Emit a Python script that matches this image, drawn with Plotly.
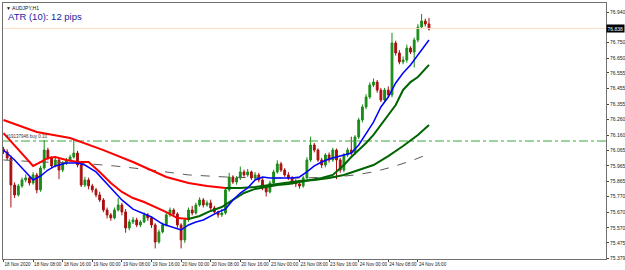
import plotly.graph_objects as go

# ---------------- data ----------------
bars = list(range(116))  # H1 bars, 18 Nov 2020 00:00 ... 24 Nov 2020 19:00

opens = [76.070, 76.053, 76.015, 75.843, 75.780, 75.837, 75.875, 75.888, 75.856, 75.907,
         75.812, 75.951, 76.065, 76.015, 75.964, 76.002, 75.938, 75.983, 76.002, 76.021,
         76.046, 75.970, 75.843, 75.875, 75.837, 75.812, 75.780, 75.748, 75.684, 75.653,
         75.634, 75.684, 75.716, 75.672, 75.570, 75.608, 75.621, 75.589, 75.608, 75.653,
         75.634, 75.589, 75.481, 75.545, 75.589, 75.653, 75.684, 75.659, 75.589, 75.494,
         75.621, 75.684, 75.665, 75.716, 75.748, 75.716, 75.729, 75.697, 75.672, 75.653,
         75.665, 75.812, 75.894, 75.862, 75.888, 75.926, 75.907, 75.926, 75.888, 75.907,
         75.875, 75.824, 75.799, 75.856, 75.926, 75.977, 75.938, 75.907, 75.888, 75.862,
         75.850, 75.837, 75.888, 76.002, 76.097, 76.065, 76.002, 75.970, 76.034, 76.002,
         76.065, 76.002, 75.938, 76.034, 76.065, 76.046, 76.148, 76.256, 76.339, 76.402,
         76.478, 76.497, 76.446, 76.383, 76.446, 76.415, 76.745, 76.682, 76.625, 76.637,
         76.713, 76.688, 76.764, 76.847, 76.885, 76.866]
closes = [76.053, 76.015, 75.843, 75.780, 75.837, 75.875, 75.888, 75.856, 75.907, 75.812,
          75.951, 76.065, 76.015, 75.964, 76.002, 75.938, 75.983, 76.002, 76.021, 76.046,
          75.970, 75.843, 75.875, 75.837, 75.812, 75.780, 75.748, 75.684, 75.653, 75.634,
          75.684, 75.716, 75.672, 75.570, 75.608, 75.621, 75.589, 75.608, 75.653, 75.634,
          75.589, 75.481, 75.545, 75.589, 75.653, 75.684, 75.659, 75.589, 75.494, 75.621,
          75.684, 75.665, 75.716, 75.748, 75.716, 75.729, 75.697, 75.672, 75.653, 75.665,
          75.812, 75.894, 75.862, 75.888, 75.926, 75.907, 75.926, 75.888, 75.907, 75.875,
          75.824, 75.799, 75.856, 75.926, 75.977, 75.938, 75.907, 75.888, 75.862, 75.850,
          75.837, 75.888, 76.002, 76.097, 76.065, 76.002, 75.970, 76.034, 76.002, 76.065,
          76.002, 75.938, 76.034, 76.065, 76.046, 76.148, 76.256, 76.339, 76.402, 76.478,
          76.497, 76.446, 76.383, 76.446, 76.415, 76.745, 76.682, 76.625, 76.637, 76.713,
          76.688, 76.764, 76.847, 76.885, 76.866, 76.834]
highs = [76.085, 76.070, 76.030, 75.860, 75.850, 75.890, 75.910, 75.900, 75.925, 75.920,
         75.965, 76.129, 76.080, 76.025, 76.020, 76.010, 75.995, 76.015, 76.035, 76.135,
         76.060, 75.985, 75.895, 75.890, 75.850, 75.825, 75.800, 75.760, 75.700, 75.665,
         75.700, 75.760, 75.730, 75.690, 75.625, 75.640, 75.635, 75.620, 75.670, 75.665,
         75.645, 75.600, 75.560, 75.605, 75.670, 75.700, 75.695, 75.670, 75.600, 75.635,
         75.700, 75.710, 75.730, 75.765, 75.760, 75.745, 75.750, 75.710, 75.680, 75.690,
         75.830, 75.920, 75.905, 75.900, 75.960, 75.940, 75.945, 75.935, 75.925, 75.920,
         75.885, 75.840, 75.870, 75.940, 76.000, 75.990, 75.950, 75.925, 75.900, 75.880,
         75.865, 75.900, 76.020, 76.150, 76.110, 76.075, 76.015, 76.045, 76.050, 76.080,
         76.075, 76.015, 76.045, 76.080, 76.150, 76.160, 76.270, 76.355, 76.420, 76.495,
         76.520, 76.510, 76.460, 76.460, 76.470, 76.810, 76.760, 76.700, 76.660, 76.735,
         76.725, 76.780, 76.865, 76.930, 76.900, 76.905]
lows = [76.040, 76.000, 75.700, 75.760, 75.770, 75.825, 75.860, 75.840, 75.845, 75.790,
        75.800, 75.940, 76.000, 75.950, 75.955, 75.880, 75.925, 75.970, 75.990, 76.010,
        75.955, 75.830, 75.830, 75.815, 75.795, 75.765, 75.735, 75.670, 75.630, 75.615,
        75.625, 75.675, 75.650, 75.540, 75.555, 75.595, 75.575, 75.575, 75.600, 75.615,
        75.570, 75.440, 75.470, 75.535, 75.580, 75.640, 75.645, 75.570, 75.440, 75.475,
        75.610, 75.650, 75.655, 75.705, 75.700, 75.705, 75.685, 75.660, 75.635, 75.640,
        75.655, 75.800, 75.850, 75.845, 75.875, 75.895, 75.895, 75.875, 75.875, 75.860,
        75.810, 75.770, 75.790, 75.845, 75.915, 75.925, 75.895, 75.875, 75.845, 75.830,
        75.820, 75.825, 75.880, 75.990, 76.050, 75.990, 75.950, 75.955, 75.985, 75.990,
        75.880, 75.920, 75.925, 76.020, 76.030, 76.035, 76.135, 76.240, 76.325, 76.390,
        76.465, 76.430, 76.370, 76.370, 76.400, 76.400, 76.665, 76.610, 76.610, 76.620,
        76.675, 76.590, 76.750, 76.835, 76.850, 76.825]

# fast moving average (blue)
blue_x = [0, 3, 6, 8, 10, 12, 14, 17, 20, 22, 25, 27, 30, 32, 35, 38, 40, 43, 46, 48, 50, 52,
          54, 56, 58, 60, 62, 64, 66, 68, 70, 72, 74, 76, 78, 80, 82, 84, 86, 88, 90, 92, 94,
          96, 98, 100, 102, 104, 106, 108, 110, 112, 114, 115]
blue_y = [76.065, 76.002, 75.926, 75.875, 75.900, 75.938, 75.964, 75.983, 75.983, 75.970,
          75.926, 75.875, 75.799, 75.748, 75.690, 75.659, 75.640, 75.595, 75.570, 75.557,
          75.589, 75.608, 75.621, 75.646, 75.671, 75.690, 75.748, 75.792, 75.824, 75.875,
          75.894, 75.887, 75.887, 75.887, 75.887, 75.894, 75.926, 75.964, 75.989, 76.008,
          76.021, 76.034, 76.046, 76.097, 76.167, 76.243, 76.339, 76.402, 76.491, 76.555,
          76.606, 76.669, 76.733, 76.764]

# medium moving average: falling part (red) and rising part (green)
mid_red_x = [0, 3, 6, 8, 10, 12, 14, 17, 20, 23, 26, 29, 32, 35, 38, 41, 44, 47, 50]
mid_red_y = [76.173, 76.097, 76.015, 75.964, 75.989, 76.015, 76.021, 76.002, 75.989, 75.989,
             75.926, 75.856, 75.799, 75.760, 75.735, 75.703, 75.671, 75.633, 75.627]
mid_grn_x = [50, 53, 56, 59, 62, 65, 68, 71, 74, 77, 80, 83, 86, 89, 92, 94, 96, 98, 100,
             102, 104, 106, 108, 110, 112, 115]
mid_grn_y = [75.627, 75.646, 75.678, 75.703, 75.748, 75.792, 75.818, 75.830, 75.843, 75.850,
             75.862, 75.875, 75.887, 75.907, 75.970, 76.021, 76.065, 76.110, 76.161, 76.224,
             76.288, 76.351, 76.447, 76.497, 76.529, 76.606]

# slow moving average: falling part (red) and rising part (green)
slow_red_x = [0, 9, 18, 27, 35, 44, 50, 55, 60]
slow_red_y = [76.256, 76.180, 76.142, 76.065, 75.989, 75.894, 75.856, 75.837, 75.824]
slow_grn_x = [60, 64, 68, 72, 76, 80, 84, 88, 92, 96, 100, 104, 108, 112, 115]
slow_grn_y = [75.824, 75.824, 75.830, 75.843, 75.856, 75.868, 75.875, 75.887, 75.907,
              75.938, 75.970, 76.027, 76.091, 76.161, 76.224]

# slowest moving average (grey dashed)
grey_x = [0, 10, 20, 30, 40, 50, 60, 70, 80, 90, 95, 100, 105, 110, 115]
grey_y = [76.002, 75.989, 75.983, 75.964, 75.938, 75.907, 75.894, 75.887, 75.887, 75.894,
          75.907, 75.926, 75.957, 75.995, 76.040]

order_price = 76.1225
order_label = "#19137946 buy 0.10"
last_price = 76.838

time_ticks = [0, 8, 16, 24, 32, 40, 48, 56, 64, 72, 80, 88, 96, 104, 112]
time_labels = ["18 Nov 2020", "18 Nov 08:00", "18 Nov 16:00", "19 Nov 00:00", "19 Nov 08:00",
               "19 Nov 16:00", "20 Nov 00:00", "20 Nov 08:00", "20 Nov 16:00", "23 Nov 00:00",
               "23 Nov 08:00", "23 Nov 16:00", "24 Nov 00:00", "24 Nov 08:00", "24 Nov 16:00"]
price_ticks = [75.379, 75.475, 75.570, 75.670, 75.770, 75.865, 75.965, 76.065, 76.160,
               76.260, 76.355, 76.455, 76.555, 76.650, 76.750, 76.940]
price_labels = ["75.379", "75.475", "75.570", "75.670", "75.770", "75.865", "75.965", "76.065",
                "76.160", "76.260", "76.355", "76.455", "76.555", "76.650", "76.750", "76.940"]

# ---------------- figure ----------------
fig = go.Figure()

XR = [-0.135, 162.84]

# price line and order line
fig.add_trace(go.Scatter(x=XR, y=[last_price, last_price], mode="lines",
                         line=dict(color="#ffdcc0", width=1), hoverinfo="skip"))
fig.add_trace(go.Scatter(x=XR, y=[order_price, order_price], mode="lines",
                         line=dict(color="#3aa83a", width=1, dash="dashdot"), hoverinfo="skip"))

fig.add_trace(go.Scatter(x=grey_x, y=grey_y, mode="lines",
                         line=dict(color="#5a5a5a", width=1, dash="dash")))
fig.add_trace(go.Scatter(x=slow_red_x, y=slow_red_y, mode="lines",
                         line=dict(color="#ff0000", width=2)))
fig.add_trace(go.Scatter(x=slow_grn_x, y=slow_grn_y, mode="lines",
                         line=dict(color="#006400", width=2)))
fig.add_trace(go.Scatter(x=mid_red_x, y=mid_red_y, mode="lines",
                         line=dict(color="#ff0000", width=2)))
fig.add_trace(go.Scatter(x=mid_grn_x, y=mid_grn_y, mode="lines",
                         line=dict(color="#006400", width=2)))

fig.add_trace(go.Candlestick(
    x=bars, open=opens, high=highs, low=lows, close=closes,
    increasing=dict(line=dict(color="#1a8c1a", width=1), fillcolor="#1a8c1a"),
    decreasing=dict(line=dict(color="#a81010", width=1), fillcolor="#a81010"),
    whiskerwidth=0))

fig.add_trace(go.Scatter(x=blue_x, y=blue_y, mode="lines",
                         line=dict(color="#0000ff", width=1.5)))

fig.update_layout(
    width=625, height=270,
    margin=dict(l=3, r=19, t=3, b=11),
    paper_bgcolor="white", plot_bgcolor="white",
    showlegend=False,
    font=dict(family="Liberation Sans", size=5, color="#222222"),
    xaxis=dict(range=XR, rangeslider=dict(visible=False), showgrid=False, zeroline=False,
               tickmode="array", tickvals=time_ticks, ticktext=time_labels,
               ticks="outside", ticklen=2, tickcolor="#444444", tickangle=0,
               ticklabelposition="outside right",
               tickfont=dict(size=4.6, family="Liberation Sans", color="#222222"),
               showline=True, linecolor="#707070", linewidth=1, mirror=True,
               automargin=False),
    yaxis=dict(range=[75.3727, 76.9995], side="right", showgrid=False, zeroline=False,
               tickmode="array", tickvals=price_ticks, ticktext=price_labels,
               ticks="outside", ticklen=2, tickcolor="#444444",
               tickfont=dict(size=5, family="Liberation Sans", color="#222222"),
               showline=True, linecolor="#707070", linewidth=1, mirror=True,
               automargin=False),
)

fig.add_annotation(text="\u25bc AUDJPY,H1", xref="paper", yref="paper", x=0.002, y=1.0,
                   xanchor="left", yanchor="top", showarrow=False,
                   font=dict(size=5, family="Liberation Sans", color="#111111"))
fig.add_annotation(text="ATR (10): 12 pips", xref="paper", yref="paper", x=0.005, y=0.978,
                   xanchor="left", yanchor="top", showarrow=False,
                   font=dict(size=9.5, family="Liberation Sans", color="#1c1ca0"))
fig.add_annotation(text=order_label, xref="paper", yref="y", x=0.002, y=order_price,
                   xanchor="left", yanchor="bottom", showarrow=False, yshift=0,
                   font=dict(size=4.5, family="Liberation Sans", color="#333333"))
fig.add_annotation(text=f"{last_price:.3f}", xref="paper", yref="y", x=1.0, y=last_price,
                   xanchor="left", yanchor="middle", showarrow=False,
                   bgcolor="#000000", borderpad=0.5,
                   font=dict(size=5, family="Liberation Sans", color="#ffffff"))

fig.write_html("out.html")
